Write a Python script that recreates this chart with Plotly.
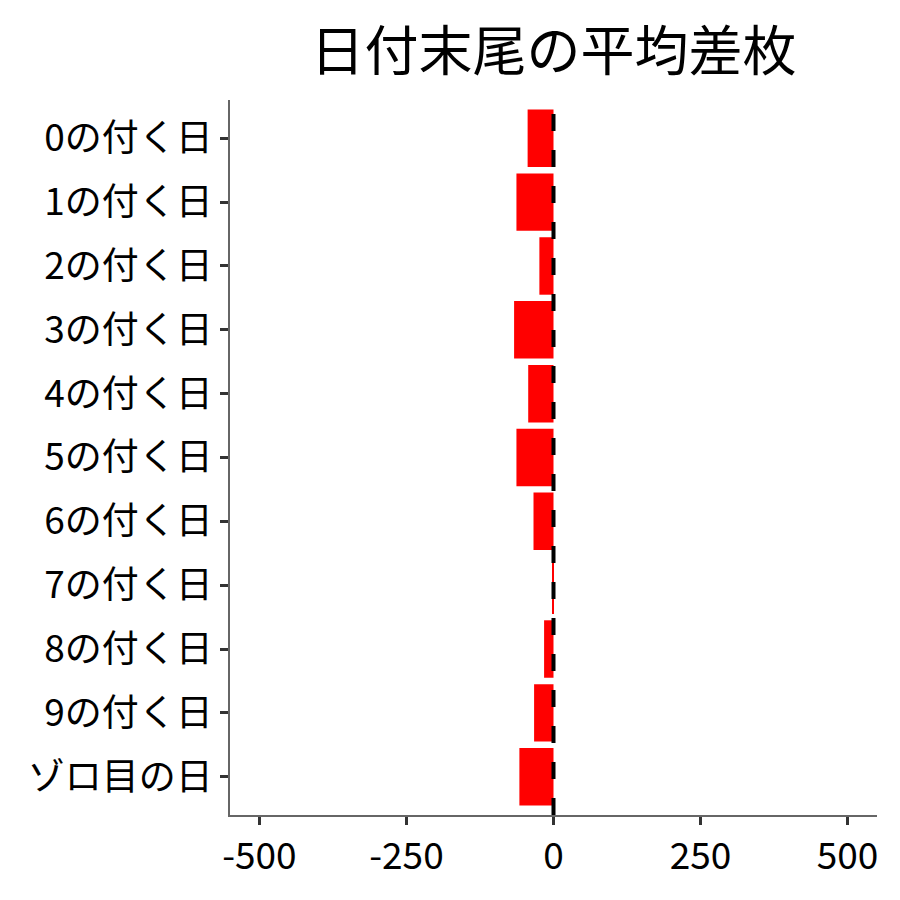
import plotly.graph_objects as go

categories = ['0の付く日', '1の付く日', '2の付く日', '3の付く日', '4の付く日',
              '5の付く日', '6の付く日', '7の付く日', '8の付く日', '9の付く日', 'ゾロ目の日']
avg_diff = [-44, -63, -24, -67, -43, -63, -34, -1, -16, -33, -58]
x_ticks = [-500, -250, 0, 250, 500]

font_family = 'Noto Sans CJK JP, Noto Sans, sans-serif'

fig = go.Figure(go.Bar(
    x=avg_diff,
    y=categories,
    orientation='h',
    width=0.9,
    marker=dict(color='#ff0000', line=dict(width=0)),
))

# dashed reference line at zero, drawn over the bars
fig.add_shape(type='line', x0=0, x1=0, xref='x', y0=0, y1=1, yref='paper',
              line=dict(color='#000000', width=4, dash='17px,19px'), layer='above')

fig.update_layout(
    title=dict(text='日付末尾の平均差枚', x=0.617, xanchor='center', y=0.95, yanchor='middle',
               font=dict(family=font_family, size=54, color='#000000')),
    font=dict(family=font_family, size=37, color='#000000'),
    plot_bgcolor='white',
    paper_bgcolor='white',
    margin=dict(l=222, r=15, t=92, b=72),
    showlegend=False,
    xaxis=dict(
        range=[-550, 550],
        tickvals=x_ticks,
        ticktext=[str(v) for v in x_ticks],
        showgrid=False,
        zeroline=False,
        showline=True,
        linecolor='#666666',
        linewidth=1.5,
        ticks='outside',
        ticklen=8,
        tickwidth=3,
        tickcolor='#333333',
        tickfont=dict(size=37, color='#000000'),
    ),
    yaxis=dict(
        categoryorder='array',
        categoryarray=categories,
        range=[len(categories) - 0.4, -0.6],
        autorange=False,
        showgrid=False,
        zeroline=False,
        showline=True,
        linecolor='#666666',
        linewidth=1.5,
        ticks='outside',
        ticklen=8,
        tickwidth=3,
        tickcolor='#333333',
        ticklabelstandoff=0,
        tickfont=dict(size=37, color='#000000'),
    ),
)

fig.write_html('out.html')
